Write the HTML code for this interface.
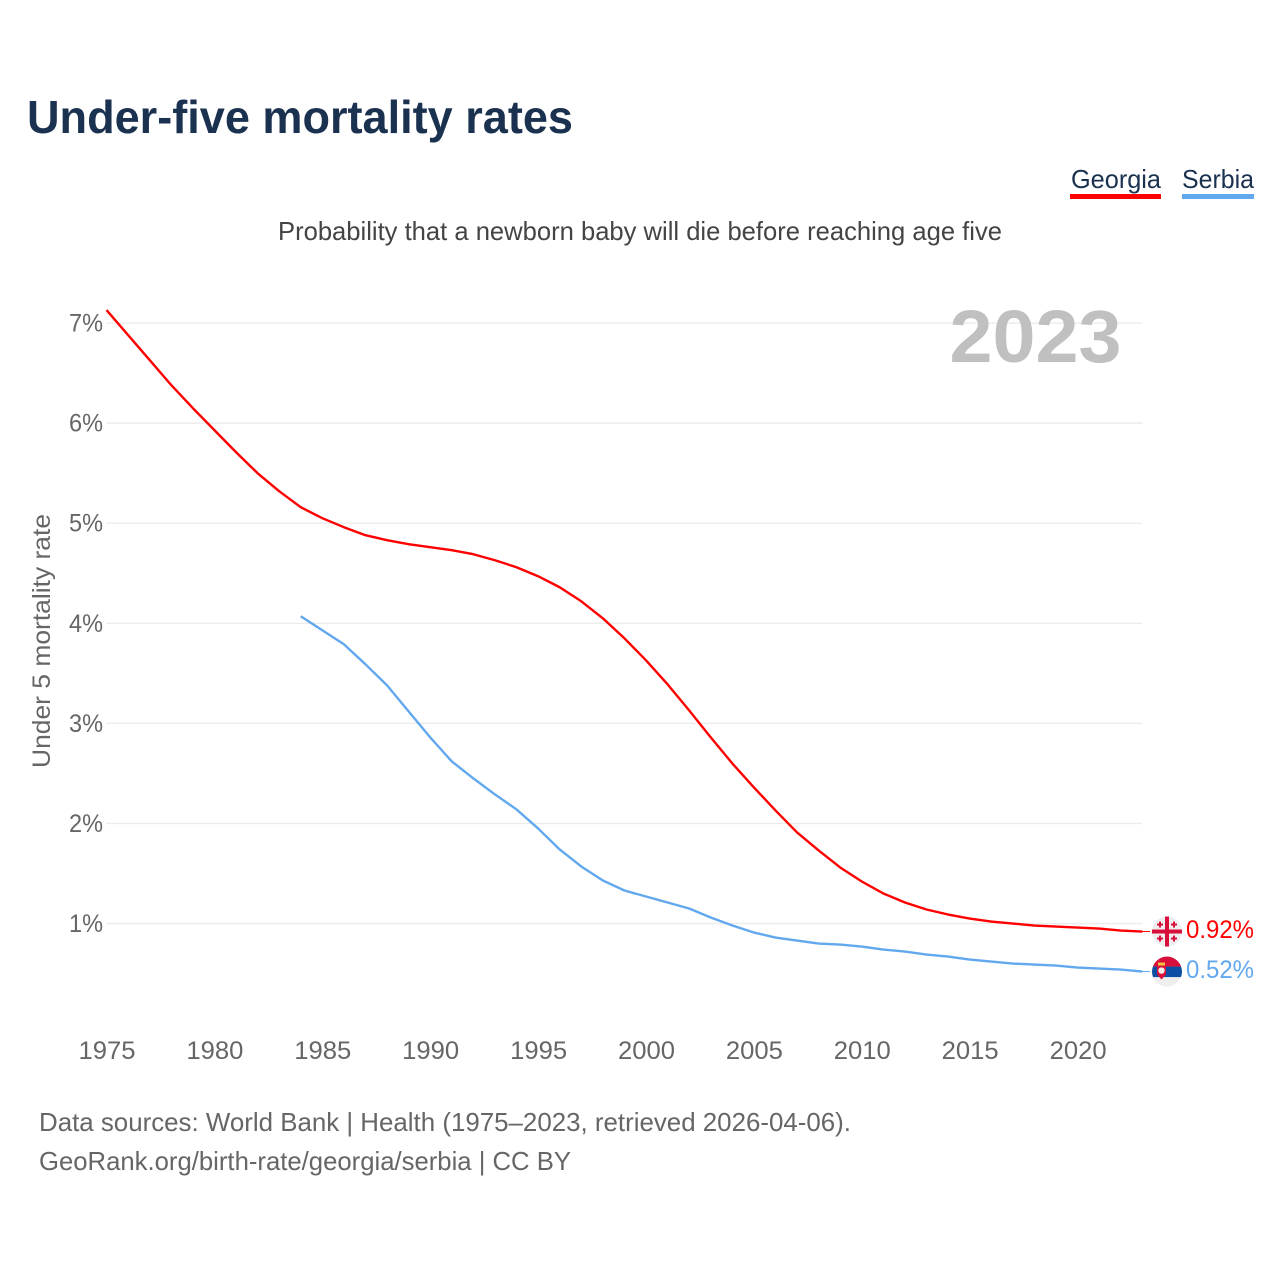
<!DOCTYPE html>
<html lang="en">
<head>
<meta charset="utf-8">
<title>Under-five mortality rates</title>
<style>
html,body{margin:0;padding:0;background:#fff;width:1280px;height:1280px;overflow:hidden}
svg{display:block}
text{font-family:"Liberation Sans",sans-serif}
</style>
</head>
<body>
<svg id="chart" xmlns="http://www.w3.org/2000/svg" width="1280" height="1280" viewBox="0 0 1280 1280">
<defs><clipPath id="flag-clip"><circle r="15"></circle></clipPath></defs>
<text x="27" y="133" font-size="46" font-weight="700" fill="#1a3150" textLength="546" lengthAdjust="spacingAndGlyphs">Under-five mortality rates</text>
<text x="640" y="240" font-size="26" fill="#444" text-anchor="middle" textLength="724" lengthAdjust="spacingAndGlyphs">Probability that a newborn baby will die before reaching age five</text>
<g>
<text x="1071" y="188" font-size="26" fill="#1a3150" textLength="90" lengthAdjust="spacingAndGlyphs">Georgia</text>
<rect x="1070" y="194" width="91" height="5" fill="#ff0000"></rect>
<text x="1182" y="188" font-size="26" fill="#1a3150" textLength="72" lengthAdjust="spacingAndGlyphs">Serbia</text>
<rect x="1182" y="194" width="72" height="5" fill="#62a8ee"></rect>
</g>
<text transform="translate(50,641) rotate(-90)" font-size="25" fill="#666" text-anchor="middle" textLength="254" lengthAdjust="spacingAndGlyphs">Under 5 mortality rate</text>
<g id="grid"></g>
<text x="1035.5" y="362" font-size="74" font-weight="700" fill="#c0c0c0" text-anchor="middle" textLength="172" lengthAdjust="spacingAndGlyphs">2023</text>
<g id="yticks"></g>
<g id="xticks"></g>
<g id="series"></g>
<g id="endmarks"></g>
<text x="39" y="1131" font-size="26" fill="#666" textLength="812" lengthAdjust="spacingAndGlyphs">Data sources: World Bank | Health (1975–2023, retrieved 2026-04-06).</text>
<text x="39" y="1170" font-size="26" fill="#666" textLength="532" lengthAdjust="spacingAndGlyphs">GeoRank.org/birth-rate/georgia/serbia | CC BY</text>
</svg>
<script>
const yTickValues = [1, 2, 3, 4, 5, 6, 7];
const yTickLabels = ["1%", "2%", "3%", "4%", "5%", "6%", "7%"];
const xTickYears = [1975, 1980, 1985, 1990, 1995, 2000, 2005, 2010, 2015, 2020];
const xTickLabels = ["1975", "1980", "1985", "1990", "1995", "2000", "2005", "2010", "2015", "2020"];
const georgiaStartYear = 1975;
const georgiaValues = [7.13, 6.88, 6.63, 6.38, 6.15, 5.93, 5.71, 5.50, 5.32, 5.16, 5.05, 4.96, 4.88, 4.83, 4.79, 4.76, 4.73, 4.69, 4.63, 4.56, 4.47, 4.36, 4.22, 4.05, 3.85, 3.63, 3.39, 3.13, 2.86, 2.60, 2.36, 2.13, 1.91, 1.73, 1.56, 1.42, 1.30, 1.21, 1.14, 1.09, 1.05, 1.02, 1.00, 0.98, 0.97, 0.96, 0.95, 0.93, 0.92];
const serbiaStartYear = 1984;
const serbiaValues = [4.07, 3.93, 3.79, 3.59, 3.38, 3.12, 2.86, 2.62, 2.45, 2.29, 2.14, 1.95, 1.74, 1.57, 1.43, 1.33, 1.27, 1.21, 1.15, 1.06, 0.98, 0.91, 0.86, 0.83, 0.80, 0.79, 0.77, 0.74, 0.72, 0.69, 0.67, 0.64, 0.62, 0.60, 0.59, 0.58, 0.56, 0.55, 0.54, 0.52];

const NS = "http://www.w3.org/2000/svg";
function xScale(year) { return 106.5 + (year - 1975) * 21.58; }
function yScale(v) { return 1023.6 - v * 100.08; }
function mk(parent, tag, attrs) {
  const e = document.createElementNS(NS, tag);
  for (const k in attrs) e.setAttribute(k, attrs[k]);
  parent.appendChild(e);
  return e;
}
const grid = document.getElementById("grid");
const yticks = document.getElementById("yticks");
const xticks = document.getElementById("xticks");
const series = document.getElementById("series");
const endmarks = document.getElementById("endmarks");

yTickValues.forEach(function (v, i) {
  const line = mk(grid, "line", {x1: xScale(1975), x2: xScale(2023), y1: yScale(v), y2: yScale(v), stroke: "#ececec", "stroke-width": 1.4});
  
  
  const t = mk(yticks, "text", {x: 103, y: yScale(v) + 8.5, "font-size": 25, fill: "#666", "text-anchor": "end", textLength: 34, lengthAdjust: "spacingAndGlyphs"});
  
  
  t.textContent = yTickLabels[i];
});
xTickYears.forEach(function (yr, i) {
  const t = mk(xticks, "text", {x: xScale(yr) + 0.5, y: 1059, "font-size": 25, fill: "#666", "text-anchor": "middle", textLength: 57, lengthAdjust: "spacingAndGlyphs"});
  
  
  t.textContent = xTickLabels[i];
});
function pts(start, values) {
  return values.map(function (v, i) { return xScale(start + i).toFixed(2) + "," + yScale(v).toFixed(2); }).join(" ");
}
const georgiaLine = mk(series, "polyline", {points: pts(georgiaStartYear, georgiaValues), fill: "none", stroke: "#ff0000", "stroke-width": 2.4, "stroke-linejoin": "round"});


const serbiaLine = mk(series, "polyline", {points: pts(serbiaStartYear, serbiaValues), fill: "none", stroke: "#62a8ee", "stroke-width": 2.4, "stroke-linejoin": "round"});



function endLabel(value, color) {
  const y = yScale(value);
  const c = mk(endmarks, "line", {x1: xScale(2023), x2: 1150, y1: y, y2: y, stroke: color, "stroke-width": 1});
  
  
  const t = mk(endmarks, "text", {x: 1186, y: y + 6.5, "font-size": 25, fill: color, textLength: 68, lengthAdjust: "spacingAndGlyphs"});
  
  
  t.textContent = value.toFixed(2) + "%";
  return y;
}
function flagGeorgia(y) {
  const g = mk(endmarks, "g", {transform: "translate(1167," + y + ")"});
  
  
  mk(g, "circle", {r: 15, fill: "#eeeeee"});
  mk(g, "rect", {x: -2, y: -15, width: 4, height: 30, fill: "#d80f3a"});
  mk(g, "rect", {x: -15, y: -2, width: 30, height: 4, fill: "#d80f3a"});
  [[-7, -7], [7, -7], [-7, 7], [7, 7]].forEach(function (p) {
    mk(g, "rect", {x: p[0] - 1, y: p[1] - 3, width: 2, height: 6, fill: "#d80f3a"});
    mk(g, "rect", {x: p[0] - 3, y: p[1] - 1, width: 6, height: 2, fill: "#d80f3a"});
  });
}
function flagSerbia(y) {
  const g = mk(endmarks, "g", {transform: "translate(1167," + y + ")", "clip-path": "url(#flag-clip)"});
  
  
  mk(g, "rect", {x: -15, y: -15, width: 30, height: 30, fill: "#eeeeee"});
  mk(g, "rect", {x: -15, y: -15, width: 30, height: 10, fill: "#d80f3a"});
  mk(g, "rect", {x: -15, y: -5, width: 30, height: 10.5, fill: "#0b4ea2"});
  mk(g, "rect", {x: -9, y: -9, width: 7, height: 3, fill: "#f3c443"});
  mk(g, "path", {d: "M-10,-6 H-1 V3 L-5.5,8 L-10,3 Z", fill: "#d80f3a"});
  mk(g, "circle", {cx: -5.5, cy: -1, r: 3.2, fill: "#f4f0e8"});
}
const gy = endLabel(georgiaValues[georgiaValues.length - 1], "#ff0000");
const sy = endLabel(serbiaValues[serbiaValues.length - 1], "#62a8ee");
flagGeorgia(gy);
flagSerbia(sy);
</script>
</body>
</html>
